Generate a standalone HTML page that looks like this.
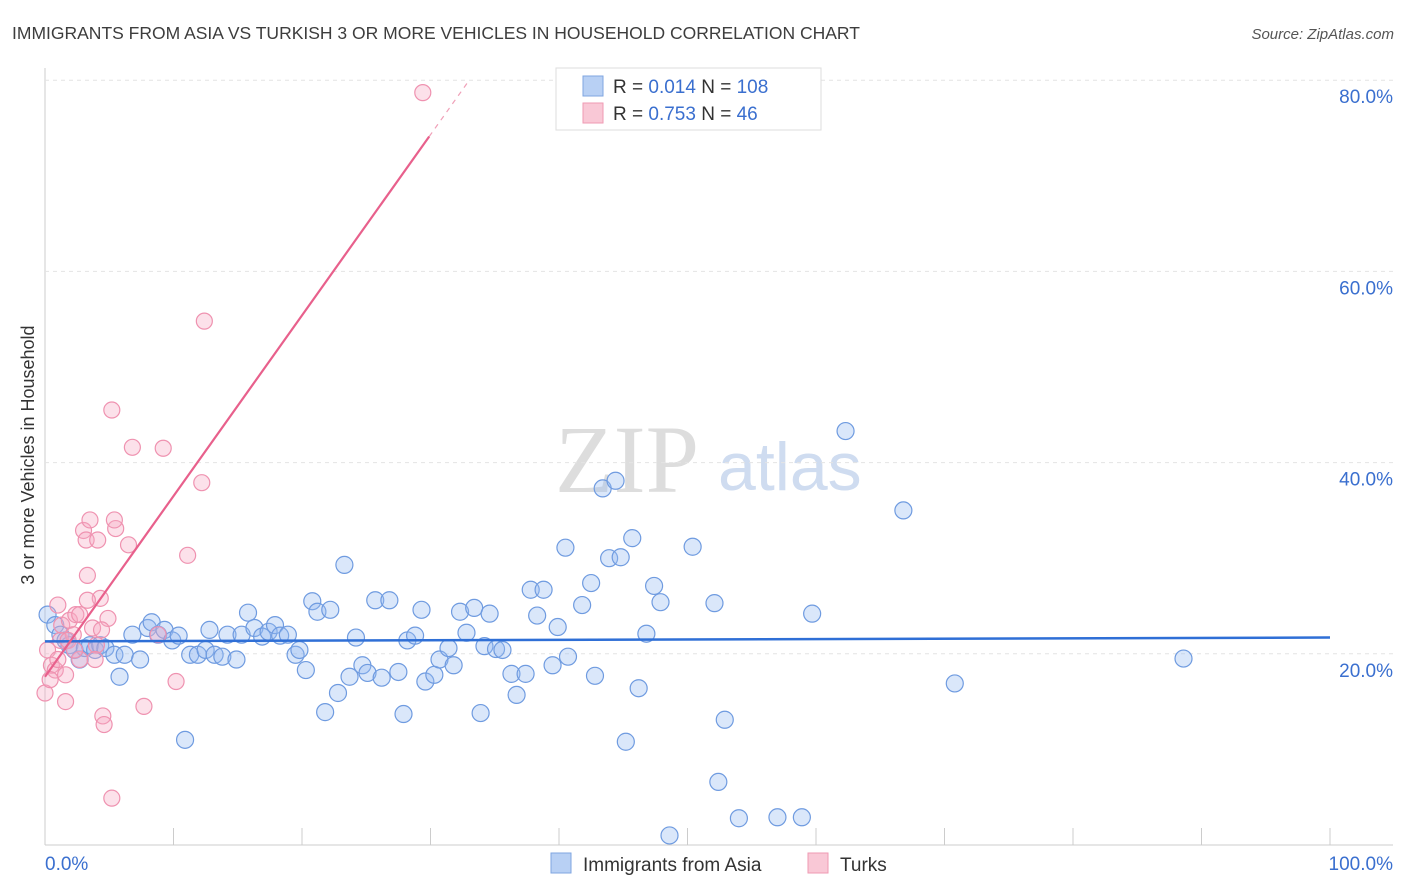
<!DOCTYPE html>
<html><head><meta charset="utf-8"><style>
body{margin:0;background:#fff;font-family:"Liberation Sans",sans-serif}
svg{display:block}
</style></head><body>
<svg id="chart" width="1406" height="892">
<text x="12" y="39" font-size="17.5" fill="#3d3d3d">IMMIGRANTS FROM ASIA VS TURKISH 3 OR MORE VEHICLES IN HOUSEHOLD CORRELATION CHART</text>
<text x="1394" y="39" font-size="15" fill="#555" font-style="italic" text-anchor="end">Source: ZipAtlas.com</text>
<text transform="translate(34,455) rotate(-90)" font-size="18" fill="#333" text-anchor="middle">3 or more Vehicles in Household</text>
<text x="555" y="492" font-size="96" fill="#ddd" font-family="Liberation Serif,serif">ZIP</text>
<text x="718" y="490" font-size="68" fill="#cfdcf0">atlas</text>
<g id="grid"></g><g id="pts"></g><g id="lines"></g>
<g>
<rect x="556" y="68" width="265" height="62" fill="#fff" stroke="#ddd"/>
<rect x="583" y="76" width="20" height="20" fill="#b8d0f4" stroke="#7fa6e0"/>
<rect x="583" y="103" width="20" height="20" fill="#f9c8d6" stroke="#ef9ab3"/>
<text x="613" y="93" font-size="19" fill="#333">R = <tspan fill="#3a6fcf">0.014</tspan>   N = <tspan fill="#3a6fcf">108</tspan></text>
<text x="613" y="120" font-size="19" fill="#333">R = <tspan fill="#3a6fcf">0.753</tspan>   N =   <tspan fill="#3a6fcf">46</tspan></text>
</g>
<g>
<rect x="551" y="853" width="20" height="20" fill="#b8d0f4" stroke="#7fa6e0"/>
<text x="583" y="871" font-size="19" fill="#333">Immigrants from Asia</text>
<rect x="808" y="853" width="20" height="20" fill="#f9c8d6" stroke="#ef9ab3"/>
<text x="840" y="871" font-size="19" fill="#333">Turks</text>
</g>
</svg>
<script>
const blueX=[0.2,0.8,1.2,1.6,1.9,2.3,2.7,3.1,3.5,3.9,4.3,4.7,5.4,5.8,6.2,6.8,7.4,8.0,8.3,8.8,9.3,9.9,10.4,10.9,11.3,11.9,12.5,12.8,13.2,13.8,14.2,14.9,15.3,15.8,16.3,16.9,17.4,17.9,18.3,18.9,19.5,19.8,20.3,20.8,21.2,21.8,22.2,22.8,23.3,23.7,24.2,24.7,25.1,25.7,26.2,26.8,27.5,27.9,28.2,28.8,29.3,29.6,30.3,30.7,31.4,31.8,32.3,32.8,33.4,33.9,34.2,34.6,35.1,35.6,36.3,36.7,37.4,37.8,38.3,38.8,39.5,39.9,40.5,40.7,41.8,42.5,42.8,43.4,43.9,44.4,44.8,45.2,45.7,46.2,46.8,47.4,47.9,48.6,50.4,52.1,52.4,52.9,54.0,57.0,58.9,59.7,62.3,66.8,70.8,88.6];
const blueY=[24.1,23.0,22.0,21.4,20.9,20.4,19.4,20.6,20.9,20.4,20.9,20.6,19.9,17.6,19.9,22.0,19.4,22.7,23.3,22.0,22.5,21.4,21.9,11.0,19.9,19.9,20.4,22.5,19.9,19.7,22.0,19.4,22.0,24.3,22.7,21.8,22.3,23.0,21.9,22.0,19.9,20.4,18.3,25.5,24.4,13.9,24.6,15.9,29.3,17.6,21.7,18.8,18.0,25.6,17.5,25.6,18.1,13.7,21.4,21.9,24.6,17.1,17.8,19.4,20.6,18.8,24.4,22.2,24.8,13.8,20.8,24.2,20.5,20.4,17.9,15.7,17.9,26.7,24.0,26.7,18.8,22.8,31.1,19.7,25.1,27.4,17.7,37.3,30.0,38.1,30.1,10.8,32.1,16.4,22.1,27.1,25.4,1.0,31.2,25.3,6.6,13.1,2.8,2.9,2.9,24.2,43.3,35.0,16.9,19.5];
const pinkX=[0,0.2,0.5,0.8,1.0,1.2,1.3,1.6,1.9,2.2,2.4,2.7,3.0,3.2,3.3,3.5,3.7,4.0,4.1,4.3,4.5,4.6,4.9,5.2,5.5,5.4,6.5,6.8,7.7,8.8,9.2,10.2,11.1,12.2,12.4,29.4,5.2,1.6,1.0,3.9,4.4,2.7,1.8,0.4,2.3,3.3];
const pinkY=[15.9,20.4,18.8,18.3,19.4,21.4,23.0,17.8,23.5,22.0,24.1,19.4,32.9,31.9,28.2,34.0,22.7,20.9,31.9,25.8,13.5,12.6,23.7,45.5,33.1,34.0,31.4,41.6,14.5,22.0,41.5,17.1,30.3,37.9,54.8,78.7,4.9,15.0,25.1,19.4,22.5,24.1,21.4,17.3,20.4,25.6];
const yTicks=[20,40,60,80];
const blueFit=[21.3,21.7];
const pinkFit=[17.6,1.89];
const sx=v=>45+v*12.85, sy=v=>845-v*9.56;
const NS="http://www.w3.org/2000/svg";
function mk(t,a,p){const e=document.createElementNS(NS,t);for(const k in a)e.setAttribute(k,a[k]);p.appendChild(e);return e;}
const grid=document.getElementById('grid');
const ax=mk('line',{x1:45,y1:68,x2:45,y2:845,stroke:'#ccc'},grid);


const bx=mk('line',{x1:45,y1:845,x2:1393,y2:845,stroke:'#ccc'},grid);


yTicks.forEach(t=>{
 const g=mk('line',{x1:45,y1:sy(t),x2:1393,y2:sy(t),stroke:'#e4e4e4','stroke-dasharray':'4,4'},grid);
 
 
 const l=mk('text',{x:1393,y:sy(t)+23,'font-size':19,fill:'#3a6fcf','text-anchor':'end'},grid);
 l.textContent=t.toFixed(1)+'%';
 
 
});
for(let i=1;i<=10;i++){const tk=mk('line',{x1:sx(i*10),y1:828,x2:sx(i*10),y2:845,stroke:'#ccc'},grid);
 
 }
const x0=mk('text',{x:45,y:870,'font-size':19,fill:'#3a6fcf'},grid);x0.textContent='0.0%';


const x1=mk('text',{x:1393,y:870,'font-size':19,fill:'#3a6fcf','text-anchor':'end'},grid);x1.textContent='100.0%';


const pts=document.getElementById('pts');
blueX.forEach((x,i)=>{const c=mk('circle',{cx:sx(x),cy:sy(blueY[i]),r:8.5,fill:'rgba(150,185,240,0.35)',stroke:'#6f9be0','stroke-width':1.2},pts);
 
 });
pinkX.forEach((x,i)=>{const c=mk('circle',{cx:sx(x),cy:sy(pinkY[i]),r:8,fill:'rgba(245,170,195,0.35)',stroke:'#ef92b0','stroke-width':1.2},pts);
 
 });
const L=document.getElementById('lines');
const bl=mk('line',{x1:sx(0),y1:sy(blueFit[0]),x2:sx(100),y2:sy(blueFit[1]),stroke:'#2f6fd6','stroke-width':2.5},L);


const xe=29.9, xd=(80-pinkFit[0])/pinkFit[1];
const pl=mk('line',{x1:sx(0),y1:sy(pinkFit[0]),x2:sx(xe),y2:sy(pinkFit[0]+pinkFit[1]*xe),stroke:'#e8608c','stroke-width':2.2},L);


const pd=mk('line',{x1:sx(xe),y1:sy(pinkFit[0]+pinkFit[1]*xe),x2:sx(xd),y2:sy(80),stroke:'#f0a0b8','stroke-width':1.2,'stroke-dasharray':'5,5'},L);


</script>
</body></html>
